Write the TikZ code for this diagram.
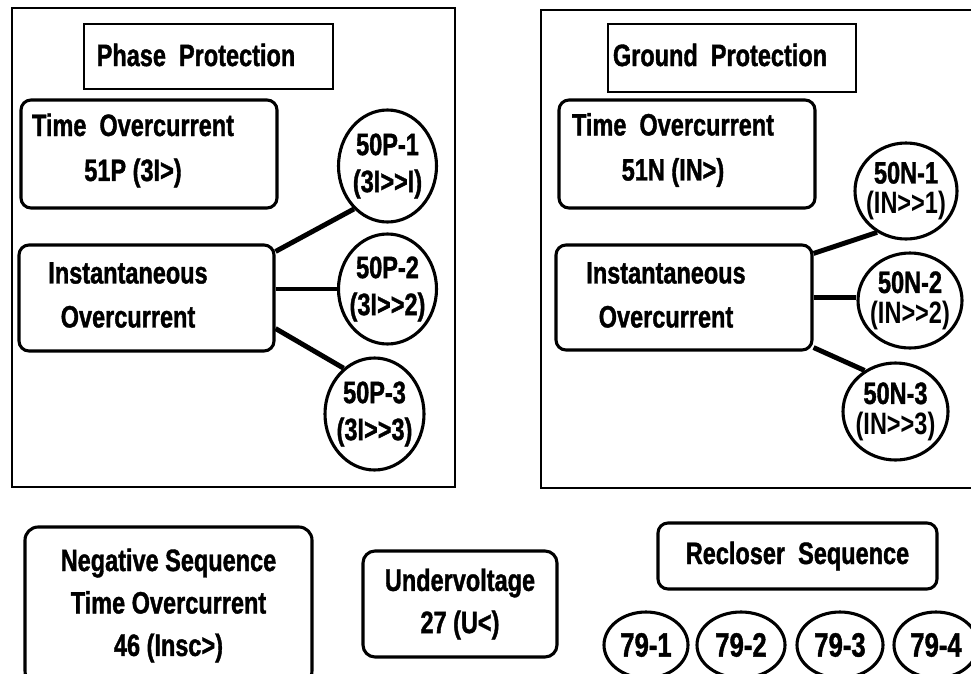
\documentclass[tikz,border=0pt]{standalone}
\usepackage{fontspec}
\setmainfont{Liberation Sans}[FakeStretch=0.76,BoldFeatures={FakeBold=1.2}]
\newfontface\relplain{Liberation Sans Bold}[FakeStretch=0.76]
\usepackage{tikz}
\usetikzlibrary{shapes.geometric,positioning}
\tikzset{
  relpanel/.style={draw,line width=2pt,inner sep=0pt},
  reltitle/.style={draw,line width=2pt,inner sep=0pt},
  relbox/.style={draw,line width=2.2pt,rounded corners=0.25cm,inner sep=0pt},
  reltext/.style={font=\bfseries\fontsize{22}{32}\selectfont,align=center,inner sep=0pt},
  relcirc/.style={ellipse,draw,line width=2.2pt,inner sep=-3pt,align=center,
                  font=\bfseries\fontsize{22}{26.3}\selectfont},
  relcircn/.style={relcirc,font=\bfseries\fontsize{22}{21.5}\selectfont},
  relstep/.style={ellipse,draw,line width=2.2pt,inner sep=0pt,
                  minimum width=2.15cm,minimum height=1.65cm,
                  font=\bfseries\fontsize{24}{28}\selectfont},
  rellink/.style={line width=3.5pt}
}

\begin{document}
\begin{tikzpicture}[x=1cm,y=1cm]
  \useasboundingbox (0,0) rectangle (24.275,-16.825);
  \clip (0,0) rectangle (24.275,-16.825);

  % phase side
  \node[relpanel,minimum width=11.075cm,minimum height=11.975cm] (phase) at (5.8375,-6.1875) {};
  \node[reltitle,minimum width=6.225cm,minimum height=1.625cm] (phaseT) at (5.2125,-1.4125) {};
  \node[reltext] (phaseTt) at (4.9,-1.375) {Phase~~Protection};
  \node[relbox,minimum width=6.4cm,minimum height=2.7cm] (timeP) at (3.725,-3.85) {};
  \node[reltext] (timePt) at (3.325,-3.7625) {Time~~Overcurrent\\51P (3I>)};
  \node[relbox,minimum width=6.375cm,minimum height=2.65cm] (instP) at (3.6625,-7.45) {};
  \node[reltext,font=\bfseries\fontsize{22}{31.3}\selectfont] (instPt) at (3.2,-7.375)
    {Instantaneous\\Overcurrent};
  \node[relcirc,minimum width=2.45cm,minimum height=2.8cm] (c1) at (9.6875,-4.15) {50P-1\\(3I>{}>I)};
  \node[relcirc,minimum width=2.45cm,minimum height=2.75cm] (c2) at (9.6875,-7.225) {50P-2\\(3I>{}>2)};
  \node[relcirc,minimum width=2.475cm,minimum height=2.8cm] (c3) at (9.3625,-10.35) {50P-3\\(3I>{}>3)};

  \draw[rellink] ([yshift=-0.2cm]instP.north east) -- (c1.232);
  \draw[rellink] (instP.east |- c2) -- (c2);
  \draw[rellink] ([yshift=0.6cm]instP.south east) -- (c3.124);

  % ground side
  \node[relpanel,minimum width=11.075cm,minimum height=11.95cm] (ground) at (19.0625,-6.225) {};
  \node[reltitle,minimum width=6.2cm,minimum height=1.7cm] (groundT) at (18.3,-1.45) {};
  \node[reltext] (groundTt) at (18.0,-1.375) {Ground~~Protection};
  \node[relbox,minimum width=6.4cm,minimum height=2.7cm] (timeN) at (17.175,-3.85) {};
  \node[reltext] (timeNt) at (16.825,-3.75) {Time~~Overcurrent\\51N (IN>)};
  \node[relbox,minimum width=6.4cm,minimum height=2.625cm] (instN) at (17.1,-7.4375) {};
  \node[reltext,font=\bfseries\fontsize{22}{31.3}\selectfont] (instNt) at (16.65,-7.375)
    {Instantaneous\\Overcurrent};
  \node[relcircn,minimum width=2.55cm,minimum height=2.4cm] (n1) at (22.65,-4.775)
    {50N-1\\\relplain(IN>{}>1)};
  \node[relcircn,minimum width=2.6cm,minimum height=2.375cm] (n2) at (22.75,-7.5125)
    {50N-2\\\relplain(IN>{}>2)};
  \node[relcircn,minimum width=2.625cm,minimum height=2.425cm] (n3) at (22.3875,-10.2875)
    {50N-3\\\relplain(IN>{}>3)};

  \draw[rellink] ([yshift=-0.25cm]instN.north east) -- (n1.-125);
  \draw[rellink] (instN.east) -- (instN.east -| n2.west);
  \draw[rellink] ([yshift=0.1cm]instN.south east) -- (n3.127);

  % other functions
  \node[relbox,reltext,rounded corners=0.33cm,font=\bfseries\fontsize{22}{30.2}\selectfont,
        minimum width=7.175cm,minimum height=3.925cm] (negseq) at (4.2125,-15.1375)
    {Negative Sequence\\Time Overcurrent\\46 (Insc>)};
  \node[relbox,reltext,rounded corners=0.3cm,font=\bfseries\fontsize{22}{30}\selectfont,
        minimum width=4.85cm,minimum height=2.65cm] (under) at (11.5,-15.1)
    {Undervoltage\\27 (U<)};
  \node[relbox,reltext,minimum width=6.975cm,minimum height=1.65cm] (recl) at (19.9375,-13.9)
    {Recloser~~Sequence};
  \node[relstep,minimum width=2.1cm] (r1) at (16.15,-16.125) {79-1};
  \node[relstep,minimum width=2.2cm] (r2) at (18.525,-16.125) {79-2};
  \node[relstep] (r3) at (21.0,-16.125) {79-3};
  \node[relstep,minimum width=2.1cm] (r4) at (23.4,-16.125) {79-4};
\end{tikzpicture}
\end{document}
